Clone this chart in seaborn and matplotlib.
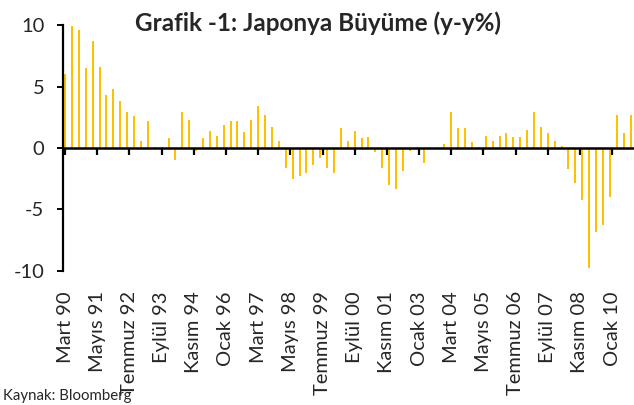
import pandas as pd
import matplotlib.pyplot as plt
import seaborn as sns

# DATA (quarterly, y-y %)

quarters = [str(q) for q in pd.period_range("1990Q1", periods=83, freq="Q")]
growth = [
    6.0, 9.9, 9.6, 6.5, 8.7, 6.6, 4.3, 4.8, 3.8, 2.9,
    2.6, 0.6, 2.2, 0.05, 0.05, 0.8, -0.95, 2.9, 2.3, -0.25,
    0.8, 1.4, 1.0, 1.9, 2.2, 2.2, 1.3, 2.3, 3.4, 2.7,
    1.7, 0.6, -1.6, -2.5, -2.3, -2.0, -1.4, -0.8, -1.6, -2.0,
    1.6, 0.55, 1.4, 0.8, 0.9, -0.3, -1.6, -3.0, -3.3, -1.9,
    -0.25, 0.05, -1.2, 0.0, -0.1, 0.3, 2.9, 1.6, 1.6, 0.45,
    0.05, 0.95, 0.55, 0.95, 1.2, 0.9, 0.9, 1.45, 2.9, 1.7,
    1.2, 0.6, 0.15, -1.7, -2.85, -4.2, -9.8, -6.85, -6.3, -4.0,
    2.7, 1.2, 2.7,
]
tick_labels = [
    "Mart 90", "Mayıs 91", "Temmuz 92", "Eylül 93", "Kasım 94", "Ocak 96",
    "Mart 97", "Mayıs 98", "Temmuz 99", "Eylül 00", "Kasım 01", "Ocak 03",
    "Mart 04", "Mayıs 05", "Temmuz 06", "Eylül 07", "Kasım 08", "Ocak 10",
]

df = pd.DataFrame({"Ceyrek": quarters, "Buyume": growth})

sns.set_style("white")
plt.rcParams["font.family"] = ["Lato", "DejaVu Sans"]

fig = plt.figure(figsize=(6.34, 4.05), dpi=100)
ax = fig.add_axes([0.0994, 0.331, 0.9, 0.607])

sns.barplot(data=df, x="Ceyrek", y="Buyume", color="#FFC000",
            saturation=1, width=0.29, linewidth=0, ax=ax)
# crisp thin bars like the excel original
for p in ax.patches:
    p.set_antialiased(False)

# labels every 14 months = 14/3 quarters
ax.set_xticks([k * 14 / 3 for k in range(len(tick_labels))], tick_labels)
ax.set_xlim(-0.3, 82.45)
ax.set_ylim(-10, 10)
ax.set_yticks([-10, -5, 0, 5, 10], ["-10", "-5", "0", "5", "10"])
ax.set_xlabel("")
ax.set_ylabel("")

for s in ["top", "right"]:
    ax.spines[s].set_visible(False)
ax.spines["left"].set_linewidth(1.6)
ax.spines["left"].set_color("black")
ax.spines["bottom"].set_position(("data", 0))
ax.spines["bottom"].set_linewidth(1.8)
ax.spines["bottom"].set_color("black")
ax.tick_params(axis="x", bottom=True, direction="out", length=5, width=1.6,
               color="black", pad=98, labelrotation=90, labelsize=14.5)
ax.tick_params(axis="y", left=True, direction="out", length=4.5, width=1.4,
               color="black", pad=9, labelsize=14.5)
for lab in ax.get_xticklabels():
    lab.set_verticalalignment("top")
    lab.set_horizontalalignment("center")

fig.text(0.502, 0.923, "Grafik -1: Japonya Büyüme (y-y%)", ha="center",
         va="baseline", fontsize=17.5, fontweight="bold")
fig.text(0.004, 0.012, "Kaynak: Bloomberg", va="baseline", fontsize=10.8)

plt.savefig("out.png", dpi=100)
